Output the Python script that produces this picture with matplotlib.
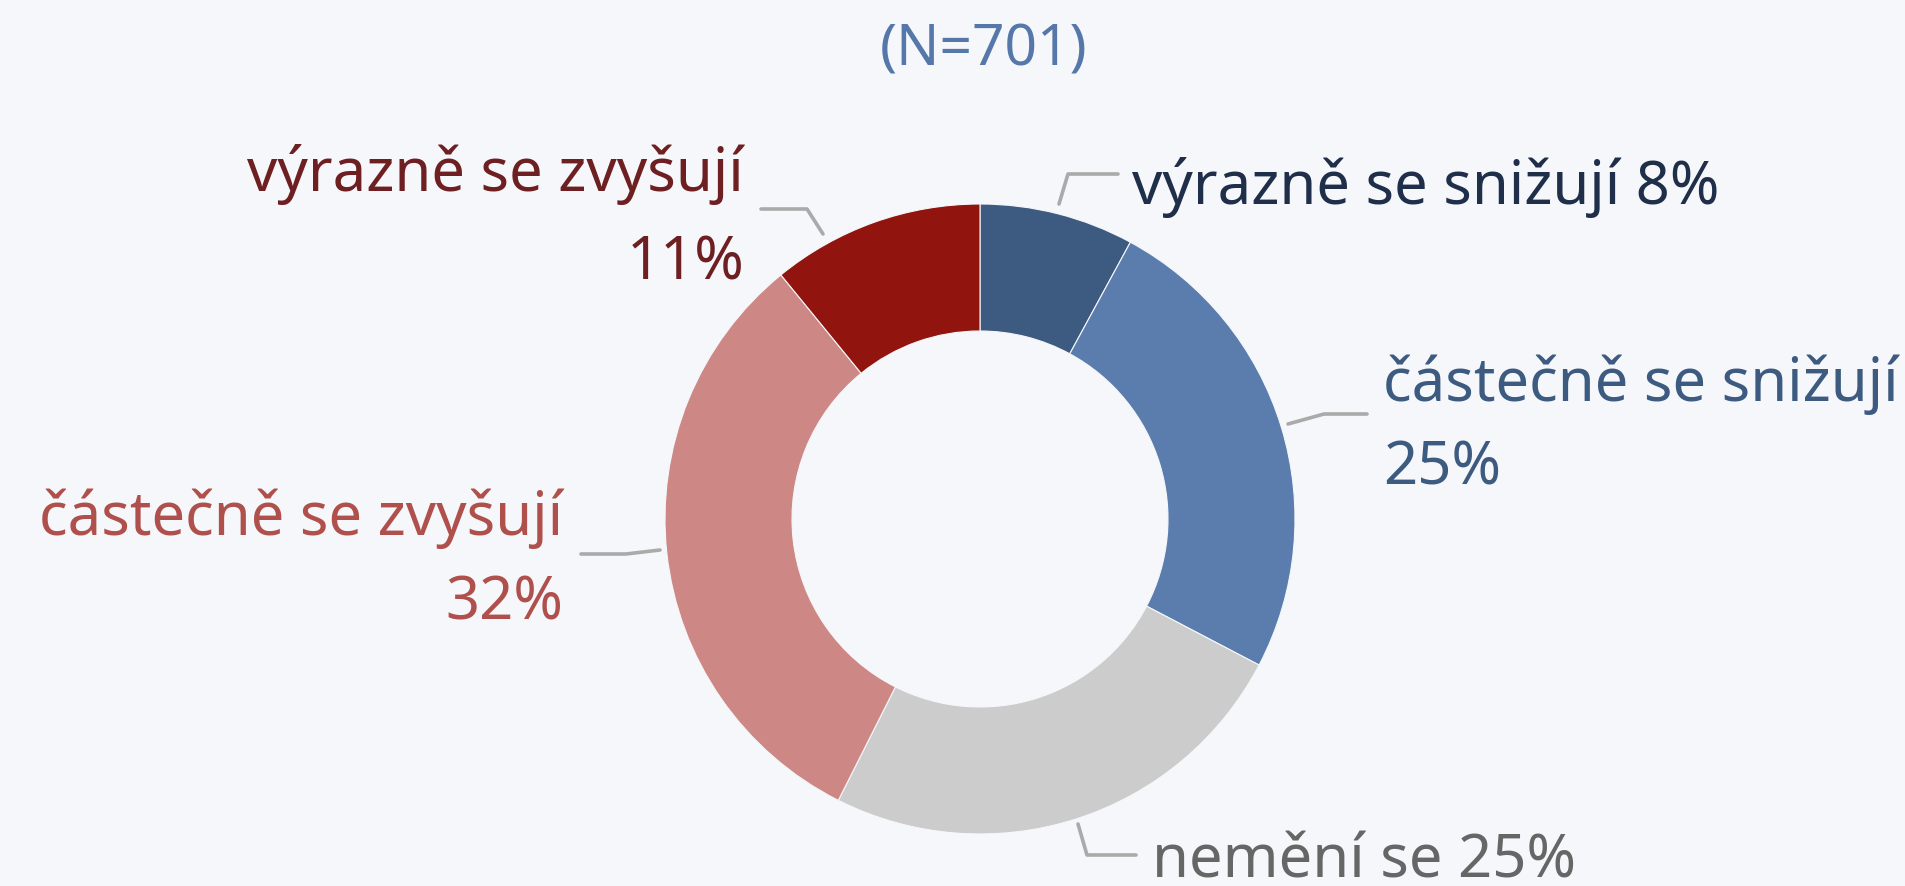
import matplotlib
matplotlib.use("Agg")
import matplotlib.pyplot as plt

# data
categories = ["výrazně se snižují", "částečně se snižují", "nemění se",
              "částečně se zvyšují", "výrazně se zvyšují"]
values = [8, 25, 25, 32, 11]
slice_colors = ["#3D5A80", "#5B7DAE", "#CCCCCC", "#CD8886", "#92140E"]
text_colors = ["#1F2F4A", "#3D5A80", "#666666", "#B0504C", "#6E1F22"]
title = "(N=701)"

W, H = 1905, 886
BG = "#F5F7FA"
plt.rcParams['font.family'] = ['Noto Sans', 'DejaVu Sans']

fig = plt.figure(figsize=(W / 100, H / 100), dpi=100, facecolor=BG)
ax = fig.add_axes([0, 0, 1, 1])
ax.set_facecolor(BG)


def yy(y):
    # picture rows are counted from the top
    return H - y


ax.pie(values, colors=slice_colors, startangle=90, counterclock=False,
       radius=315, center=(980, yy(519)), frame=True,
       wedgeprops=dict(width=127, edgecolor=BG, linewidth=0.8))
ax.set_xlim(0, W)
ax.set_ylim(0, H)
ax.set_aspect('equal')
ax.axis('off')

ax.text(984, yy(51), title, color="#5577AA", fontsize=41,
        ha='center', va='center')

# leader lines (picture pixels) and label placement
leaders = [
    [(1059, 204), (1068, 174), (1118, 174)],
    [(1288, 424), (1324, 414), (1367, 414)],
    [(1078, 824), (1087, 855), (1136, 855)],
    [(660, 550), (626, 554), (581, 554)],
    [(823, 234), (807, 209), (761, 209)],
]
for pts in leaders:
    ax.plot([p[0] for p in pts], [yy(p[1]) for p in pts],
            color="#AAAAAA", lw=2.6, solid_capstyle='round')

fs = 43
# (x, baseline of first line, baseline of second line or None, ha)
place = [
    (1132, 204, None, 'left'),
    (1383, 401, 484, 'left'),
    (1152, 877, None, 'left'),
    (563, 535, 620, 'right'),
    (744, 191, 279, 'right'),
]
for cat, val, col, (x, b1, b2, ha) in zip(categories, values, text_colors, place):
    pct = f"{val}%"
    if b2 is None:
        ax.text(x, yy(b1), f"{cat} {pct}", color=col, fontsize=fs,
                ha=ha, va='baseline')
    else:
        ax.text(x, yy(b1), cat, color=col, fontsize=fs, ha=ha, va='baseline')
        ax.text(x, yy(b2), pct, color=col, fontsize=fs, ha=ha, va='baseline')

fig.savefig("out.png", dpi=100, facecolor=BG)
